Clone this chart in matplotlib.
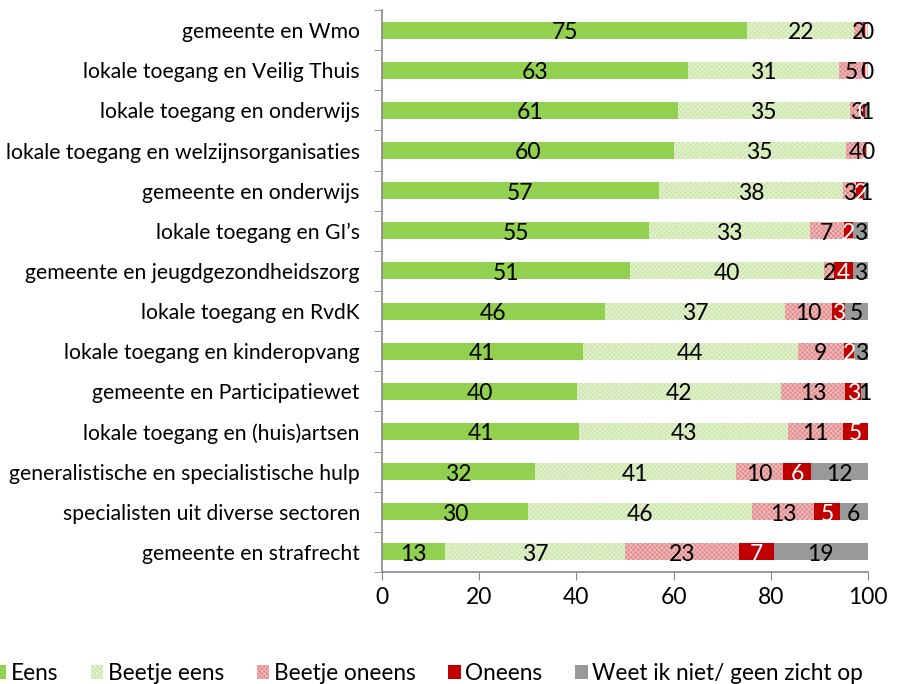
import numpy as np
import matplotlib.pyplot as plt
from matplotlib.patches import Patch

plt.rcParams['font.family'] = ['Lato', 'DejaVu Sans']
plt.rcParams['hatch.linewidth'] = 0.5

categories = [
    'gemeente en Wmo',
    'lokale toegang en Veilig Thuis',
    'lokale toegang en onderwijs',
    'lokale toegang en welzijnsorganisaties',
    'gemeente en onderwijs',
    "lokale toegang en GI\u2019s",
    'gemeente en jeugdgezondheidszorg',
    'lokale toegang en RvdK',
    'lokale toegang en kinderopvang',
    'gemeente en Participatiewet',
    'lokale toegang en (huis)artsen',
    'generalistische en specialistische hulp',
    'specialisten uit diverse sectoren',
    'gemeente en strafrecht',
]

eens = [75.2, 63.0, 60.9, 60.0, 57.0, 55.0, 51.0, 45.9, 41.3, 40.2, 40.6, 31.5, 30.0, 12.9]
beetje_eens = [21.9, 31.1, 35.3, 35.4, 37.9, 33.0, 40.0, 37.0, 44.3, 42.0, 43.0, 41.3, 46.1, 37.2]
beetje_oneens = [1.8, 4.9, 2.8, 3.9, 2.7, 7.0, 2.0, 9.6, 9.4, 13.1, 11.2, 9.8, 12.8, 23.4]
oneens = [0.7, 0.7, 0.3, 0.6, 1.6, 2.0, 4.0, 2.8, 2.2, 3.3, 5.2, 5.7, 5.3, 7.1]
weet_niet = [0.4, 0.3, 0.7, 0.1, 0.8, 3.0, 3.0, 4.7, 2.8, 1.4, 0.0, 11.7, 5.8, 19.4]

series = [
    ('Eens', eens, dict(color='#92D050')),
    ('Beetje eens', beetje_eens, dict(facecolor='#cde7ad', edgecolor='#e8f4d8', hatch='xxxxxxx')),
    ('Beetje oneens', beetje_oneens, dict(facecolor='#e38e8e', edgecolor='#f2c4c4', hatch='xxxxxxx')),
    ('Oneens', oneens, dict(color='#C00000')),
    ('Weet ik niet/ geen zicht op', weet_niet, dict(color='#999999')),
]
label_colors = ['black', 'black', 'black', 'white', 'black']

fig = plt.figure(figsize=(8.98, 6.84), dpi=100)
ax = fig.add_axes([382 / 898, 1 - 572 / 684, (868 - 382) / 898, (572 - 10) / 684])

y = np.arange(len(categories))
left = np.zeros(len(categories))
handles = []
for (name, vals, style), tc in zip(series, label_colors):
    vals = np.array(vals)
    ax.barh(y, vals, left=left, height=0.42, linewidth=0, **style)
    for yi, (l, v) in enumerate(zip(left, vals)):
        if v > 0:
            ax.text(l + v / 2, yi + 0.06, f'{v:.0f}', ha='center', va='center',
                    fontsize=16.5, color=tc)
    left += vals
    handles.append(Patch(linewidth=0, **style))

ax.set_xlim(0, 100)
ax.set_ylim(len(categories) - 0.5, -0.5)
ax.set_xticks(np.arange(0, 101, 20))
ax.set_yticks(y)
ax.set_yticklabels(categories)
ax.set_yticks(np.arange(-0.5, len(categories), 1), minor=True)
ax.tick_params(axis='y', which='major', length=0, pad=16, labelsize=15.2)
ax.tick_params(axis='y', which='minor', length=6, color='#888888', direction='out')
ax.tick_params(axis='x', length=6, color='#888888', labelsize=16.5, pad=5)
for s in ['top', 'right']:
    ax.spines[s].set_visible(False)
for s in ['left', 'bottom']:
    ax.spines[s].set_color('#888888')
    ax.spines[s].set_linewidth(1.2)

fig.legend(handles, [s[0] for s in series], loc='lower left', bbox_to_anchor=(-0.03, -0.03),
           ncol=5, frameon=False, fontsize=16.3, handlelength=0.55, handleheight=0.55,
           handletextpad=0.2, columnspacing=1.45)

fig.savefig('out.png', dpi=100)
